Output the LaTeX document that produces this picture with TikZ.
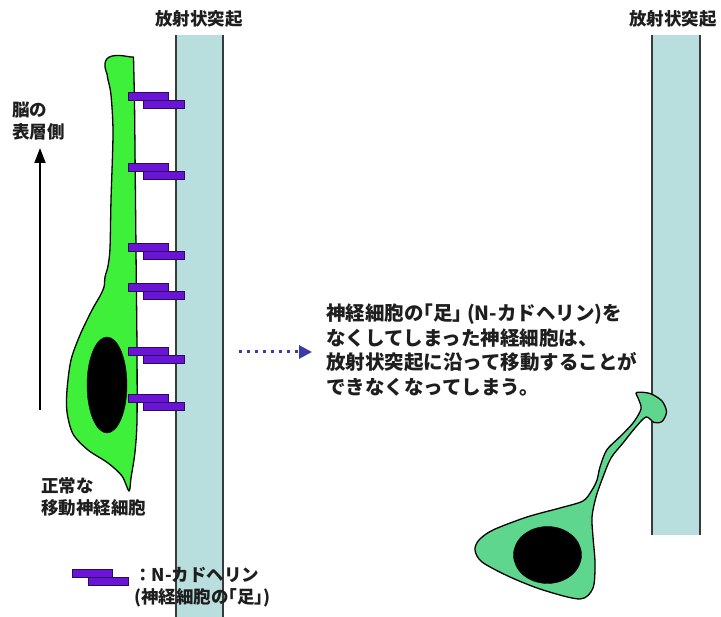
\documentclass[tikz,border=0pt]{standalone}
\usepackage{fontspec}
\newfontfamily\jp{Noto Sans CJK JP}
\usetikzlibrary{arrows.meta}
\definecolor{fiberfill}{HTML}{B9DEDE}
\definecolor{fiberline}{HTML}{3A3A3A}
\definecolor{cellgreen}{HTML}{3EF03A}
\definecolor{cellmint}{HTML}{5ED68E}
\definecolor{cadfill}{HTML}{6A14D6}
\definecolor{cadline}{HTML}{2A0A5E}
\definecolor{inkgray}{HTML}{1E1E1E}
\definecolor{dotblue}{HTML}{3A3AA8}
\tikzset{
  fiberedge/.style={draw=fiberline, line width=1.5pt},
  cellbody/.style={draw=black, line width=1.3pt, line join=round},
  nucleus/.style={fill=black, draw=black},
  cadbar/.style={fill=cadfill, draw=cadline, line width=0.9pt},
  label/.style={text=inkgray, inner sep=0pt, font=\jp\bfseries\fontsize{17.5}{22}\selectfont},
  msg/.style={text=inkgray, inner sep=0pt, align=left, font=\jp\bfseries\fontsize{19.5}{24.5}\selectfont},
  uparrow/.style={draw=black, line width=1.8pt, -{Triangle[length=15pt,width=11pt]}},
  dotarrow/.style={draw=dotblue, line width=3pt, dash pattern=on 3pt off 5pt, -{Triangle[length=13pt,width=13pt]}}
}
% N-cadherin "foot": two overlapping bars, the top one set back to the left
\newcommand{\cadpair}[2]{%
  \path[cadbar] (#1,#2) rectangle ++(40,8);
  \path[cadbar] (#1+15,#2+8) rectangle ++(41,8);
}
\begin{document}
\begin{tikzpicture}[x=1pt,y=-1pt]
\path[use as bounding box] (0,0) rectangle (721,617);

% radial fibres
\fill[fiberfill] (176,35) rectangle (223,617);
\draw[fiberedge] (176,35) -- (176,617) (223,35) -- (223,617);
\fill[fiberfill] (652,35) rectangle (700,535);
\draw[fiberedge] (652,35) -- (652,535) (700,35) -- (700,535);

\node[label] (fiberA) at (199,19) {放射状突起};
\node[label] (fiberB) at (673,19) {放射状突起};

% normally migrating neuron: rounded leading process on top, soma below
\draw[cellbody, fill=cellgreen]
  (107,74) .. controls (103,64) and (104,56) .. (116,55.5)
  .. controls (125,55.2) and (130,57.5) .. (133.5,57)
  -- plot[smooth, tension=0.5] coordinates {
  (134.5,100) (135,150) (136,250) (137,350) (137,420)
  (135,452) (131,478) (129,491) (122,476) (108,463) (88,450) (73,434)
  (67,412) (67,390) (71,360) (80,335) (92,310) (100,296) (104,287)
  (105,277) (108,266) (110,248) (111,200) (113,133) (111,95) (108,80)} -- cycle;
\fill[nucleus] (107,385) ellipse [x radius=20, y radius=48];

\cadpair{128}{92}
\cadpair{128}{163}
\cadpair{128}{243}
\cadpair{128}{283}
\cadpair{128}{347}
\cadpair{128}{394}

% direction towards the brain surface
\node[label, align=left, anchor=west] (surface) at (12,121) {脳の\\表層側};
\coordinate (upbase) at (40,410);
\coordinate (uptip) at (40,148);
\draw[uparrow] (upbase) -- (uptip);

\node[label, align=left, anchor=west] (normal) at (41,497) {正常な\\移動神経細胞};

% legend
\path[cadbar] (72,569) rectangle (112,577);
\path[cadbar] (88,577) rectangle (128,585);
\node[label, align=left, anchor=west] (legend) at (134,587) {：N-カドヘリン\\(神経細胞の｢足｣)};

% explanation
\node[msg, anchor=west] (explain) at (326,350) {神経細胞の｢足｣ (N-カドヘリン)を\\なくしてしまった神経細胞は、\\放射状突起に沿って移動することが\\できなくなってしまう。};
\coordinate (dotstart) at (239,352);
\coordinate (dotend) at (312,352);
\draw[dotarrow] (dotstart) -- (dotend);

% neuron without N-cadherin
\draw[cellbody, fill=cellmint] plot[smooth cycle, tension=0.5] coordinates {
  (636.5,392.5) (650,393.5) (662,401) (666.5,412) (662,421.5) (654,422.5)
  (646,417) (635,428) (623,443) (611,458) (603,477) (596,497) (592,517)
  (593,537) (595,563) (593,588) (580,599) (543,590) (510,577) (482,562)
  (475,550) (479,540) (493,530) (527,517) (560,508) (583,501) (592,490)
  (597,480) (600,467) (606.7,450) (620,436.7) (633,423) (641,409) (638.5,399)};
\fill[nucleus] (547.5,555) ellipse [x radius=34, y radius=28.5];
\end{tikzpicture}
\end{document}
